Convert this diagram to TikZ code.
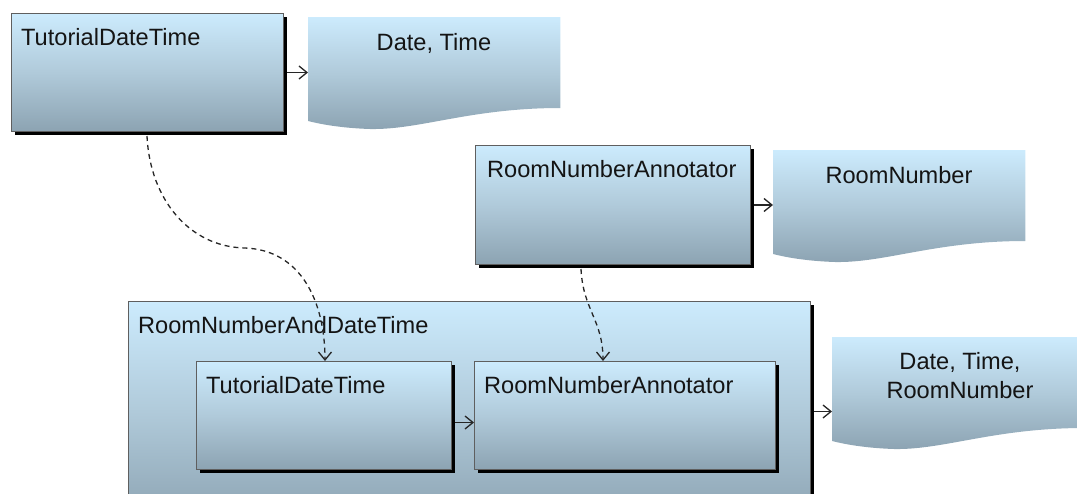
\documentclass[tikz,border=0pt]{standalone}
\usepackage{fontspec}
\setmainfont{Liberation Sans}
\usetikzlibrary{arrows.meta,calc}
\definecolor{topc}{RGB}{204,235,253}
\definecolor{midc}{RGB}{176,202,218}
\definecolor{botc}{RGB}{140,163,178}
\definecolor{edgec}{RGB}{95,95,95}
\definecolor{txtc}{RGB}{20,20,20}
\newcommand\docwave[1]{\shade[grad] (#1.north west) -- (#1.north east) -- ($(#1.north east)+(0,91)$) .. controls ($(#1.north east)+(-90,91)$) and ($(#1.north west)+(112,113)$) .. ($(#1.north west)+(62,112)$) .. controls ($(#1.north west)+(32,111)$) and ($(#1.north west)+(12,107)$) .. ($(#1.north west)+(0,104)$) -- cycle;}
\begin{document}
\begin{tikzpicture}[x=1pt,y=-1pt,
 font=\fontsize{23.6}{29}\selectfont,
 grad/.style={top color=topc,bottom color=botc,middle color=midc},
 box/.style={grad,draw=edgec,line width=1pt,anchor=north west,inner sep=0pt,
   preaction={fill=black,transform canvas={shift={(3pt,-3pt)}}}},
 lbl/.style={anchor=base west,text=txtc,inner sep=0pt},
 doctext/.style={anchor=base,text=txtc,inner sep=0pt},
 docbox/.style={anchor=north west,inner sep=0pt,minimum width=252pt,minimum height=112pt},
 flow/.style={draw=black!85,line width=1.3pt,-{Straight Barb[length=8pt,width=13pt]}},
 dep/.style={flow,dash pattern=on 5pt off 4pt}
]
\useasboundingbox (0,0) rectangle (1077,493);
\clip (0,0) rectangle (1077,493);

% top-left component and its output
\node[box,minimum width=272pt,minimum height=118pt] (tdt) at (11,13) {};
\node[lbl] (tdtl) at (21,45) {TutorialDateTime};
\node[docbox] (dt) at (308,17) {};
\docwave{dt}
\node[doctext] (dtt) at (434,50) {Date, Time};

% room number annotator and its output
\node[box,minimum width=275pt,minimum height=119pt] (rna) at (475,145) {};
\node[lbl] (rnal) at (487,177) {RoomNumberAnnotator};
\node[docbox] (rn) at (773,150) {};
\docwave{rn}
\node[doctext] (rnt) at (899,183) {RoomNumber};

% aggregate
\node[box,minimum width=682pt,minimum height=220pt] (cont) at (128,301) {};
\node[lbl] (contl) at (138,333) {RoomNumberAndDateTime};
\node[box,minimum width=255pt,minimum height=108pt] (itdt) at (196,361) {};
\node[lbl] (itdtl) at (206,393) {TutorialDateTime};
\node[box,minimum width=301pt,minimum height=108pt] (irna) at (474,361) {};
\node[lbl] (irnal) at (484,393) {RoomNumberAnnotator};
\node[docbox] (fr) at (832,337) {};
\docwave{fr}
\node[doctext] (frt1) at (960,369) {Date, Time,};
\node[doctext] (frt2) at (960,398) {RoomNumber};

% flows
\draw[flow] ($(tdt.east)+(3,0)$) -- (dt.west |- tdt.east);
\draw[flow] ($(rna.east)+(3,0)$) -- (rn.west |- rna.east);
\draw[flow] ($(cont.east)+(3,0)$) -- (fr.west |- cont.east);
\draw[flow] ($(itdt.east)+(3,7)$) -- ($(irna.west)+(0,7)$);

% dependencies
\coordinate (bend1) at (245,248);
\draw[dep] ($(tdt.south west)+(136,4)$) .. controls (150,200) and (190,247) .. (bend1)
  .. controls (300,250) and (325,300) .. ($(itdt.north west)+(129,0)$);
\draw[dep] ($(rna.south west)+(106,4)$) .. controls (583,310) and (603,320) .. ($(irna.north west)+(129,0)$);
\end{tikzpicture}
\end{document}
